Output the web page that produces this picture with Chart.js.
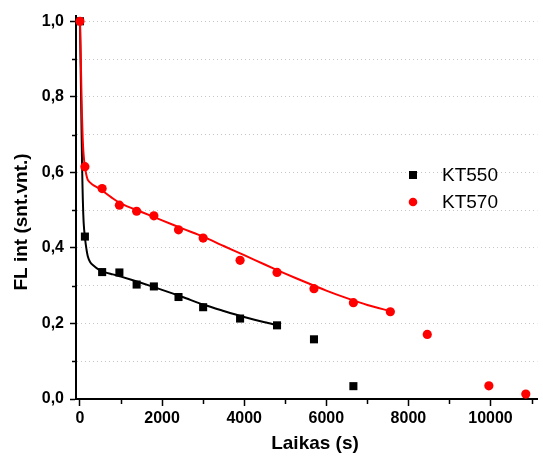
<!DOCTYPE html>
<html><head><meta charset="utf-8">
<script src="https://cdn.jsdelivr.net/npm/chart.js@4/dist/chart.umd.min.js"></script>
<style>html,body{margin:0;padding:0;background:#fff}#wrap{width:543px;height:456px}</style>
</head><body><div id="wrap"><canvas id="c" width="543" height="456"></canvas></div>
<script>
// Data
const timeKT550 = [0, 120, 540, 960, 1380, 1800, 2400, 3000, 3900, 4800, 5700, 6660];
const valKT550  = [1.0, 0.43, 0.336, 0.335, 0.303, 0.298, 0.27, 0.243, 0.213, 0.195, 0.158, 0.034];
const timeKT570 = [0, 120, 540, 960, 1380, 1800, 2400, 3000, 3900, 4800, 5700, 6660, 7560, 8460, 9960, 10860];
const valKT570  = [1.0, 0.615, 0.557, 0.513, 0.497, 0.485, 0.448, 0.426, 0.367, 0.335, 0.292, 0.255, 0.231, 0.171, 0.035, 0.013];
// fitted curves
const fitTime550 = [0, 20, 40, 60, 80, 100, 140, 190, 250, 320, 450, 600, 800, 1000, 1500, 2000, 2500, 3000, 3500, 4000, 4500, 4800];
const fitVal550  = [1.0, 0.85, 0.70, 0.57, 0.49, 0.45, 0.41, 0.378, 0.362, 0.354, 0.343, 0.336, 0.330, 0.324, 0.307, 0.289, 0.270, 0.250, 0.233, 0.217, 0.203, 0.196];
const fitTime570 = [0, 20, 40, 60, 80, 120, 190, 300, 500, 750, 1000, 1500, 2000, 2500, 3000, 3500, 4000, 4500, 5000, 5500, 6000, 6500, 7000, 7580];
const fitVal570  = [1.0, 0.90, 0.79, 0.71, 0.66, 0.615, 0.58, 0.568, 0.555, 0.535, 0.517, 0.495, 0.473, 0.451, 0.430, 0.405, 0.381, 0.356, 0.332, 0.309, 0.287, 0.267, 0.249, 0.232];
const xTicks = [0, 1000, 2000, 3000, 4000, 5000, 6000, 7000, 8000, 9000, 10000, 11000];
const yTicks = [0, 0.1, 0.2, 0.3, 0.4, 0.5, 0.6, 0.7, 0.8, 0.9, 1.0];
const seriesNames = ['KT550', 'KT570'];
const xTitle = 'Laikas (s)';
const yTitle = 'FL int (snt.vnt.)';

const pts = (xs, ys) => xs.map((x, i) => ({x, y: ys[i]}));
const FONT = '"Liberation Sans", Arial, sans-serif';
const isMajorX = v => Math.abs(v % 2000) < 1e-6;
const isMajorY = v => Math.abs(Math.round(v * 10) % 2) === 0;

const extras = {
  id: 'extras',
  afterDraw(chart) {
    const ctx = chart.ctx, xs = chart.scales.x, ys = chart.scales.y;
    ctx.save();
    // minor tick marks
    ctx.strokeStyle = '#000'; ctx.lineWidth = 1.5;
    xTicks.filter(v => !isMajorX(v)).forEach(v => {
      const px = Math.round(xs.getPixelForValue(v)) + 0.5;
      ctx.beginPath(); ctx.moveTo(px, ys.bottom); ctx.lineTo(px, ys.bottom + 5); ctx.stroke();
    });
    yTicks.filter(v => !isMajorY(v)).forEach(v => {
      const py = Math.round(ys.getPixelForValue(v)) + 0.5;
      ctx.beginPath(); ctx.moveTo(xs.left, py); ctx.lineTo(xs.left - 4, py); ctx.stroke();
    });
    // axis titles
    ctx.fillStyle = '#000';
    ctx.font = 'bold 19px ' + FONT;
    ctx.textAlign = 'center'; ctx.textBaseline = 'middle';
    ctx.fillText(xTitle, 315, 444);
    ctx.translate(22, 222); ctx.rotate(-Math.PI / 2);
    ctx.fillText(yTitle, 0, 0);
    ctx.restore();
    // legend
    ctx.save();
    const ds = chart.data.datasets;
    const rows = [{ds: ds[3], y: 175, shape: 'rect'}, {ds: ds[1], y: 202, shape: 'circle'}];
    ctx.font = '19px ' + FONT; ctx.textBaseline = 'middle'; ctx.textAlign = 'left';
    rows.forEach(r => {
      ctx.fillStyle = r.ds.backgroundColor;
      if (r.shape === 'rect') ctx.fillRect(409, r.y - 4, 8, 8);
      else { ctx.beginPath(); ctx.arc(413, r.y, 4.3, 0, Math.PI * 2); ctx.fill(); }
      ctx.fillStyle = '#000';
      ctx.fillText(r.ds.label, 442, r.y + 1);
    });
    ctx.restore();
  }
};

new Chart(document.getElementById('c'), {
  type: 'scatter',
  data: {
    datasets: [
      {label: seriesNames[1] + ' fit', type: 'line', data: pts(fitTime570, fitVal570), borderColor: '#ff0000', borderWidth: 2, pointRadius: 0, tension: 0.3, fill: false, order: 2},
      {label: seriesNames[1], data: pts(timeKT570, valKT570), backgroundColor: '#ff0000', borderColor: '#ff0000', pointStyle: 'circle', pointRadius: 4.6, borderWidth: 0, clip: false, order: 1},
      {label: seriesNames[0] + ' fit', type: 'line', data: pts(fitTime550, fitVal550), borderColor: '#000000', borderWidth: 2, pointRadius: 0, tension: 0.3, fill: false, order: 4},
      {label: seriesNames[0], data: pts(timeKT550, valKT550), backgroundColor: '#000000', borderColor: '#000000', pointStyle: 'rect', pointRadius: 5.7, borderWidth: 0, clip: false, order: 3}
    ]
  },
  options: {
    responsive: false, animation: false, events: [],
    layout: {padding: {top: 14, right: 3, left: 0, bottom: 0}},
    plugins: {legend: {display: false}, tooltip: {enabled: false}},
    scales: {
      x: {
        type: 'linear', min: -97, max: 11140,
        afterFit: s => { s.height = 57; },
        afterBuildTicks: s => { s.ticks = xTicks.map(v => ({value: v})); },
        border: {display: true, color: '#000', width: 2},
        grid: {drawOnChartArea: false, drawTicks: true, tickLength: 7, tickWidth: 1.5,
               tickColor: c => isMajorX(c.tick.value) ? '#000' : 'rgba(0,0,0,0)'},
        ticks: {color: '#000', font: {family: FONT, size: 16, weight: 'bold'}, padding: 3, maxRotation: 0, autoSkip: false,
                callback: v => isMajorX(v) ? String(v) : ''}
      },
      y: {
        type: 'linear', min: 0, max: 1.015,
        afterFit: s => { s.width = 76; },
        afterBuildTicks: s => { s.ticks = yTicks.map(v => ({value: v})); },
        border: {display: true, color: '#000', width: 2, dash: [1, 3]},
        grid: {display: true, drawOnChartArea: true, drawTicks: true, tickLength: 6, tickWidth: 1.5,
               color: c => (c.tick && c.tick.value === 0) ? 'rgba(0,0,0,0)' : '#c4c4c4', lineWidth: 1,
               tickBorderDash: [],
               tickColor: c => (c.tick && isMajorY(c.tick.value)) ? '#000' : 'rgba(0,0,0,0)'},
        ticks: {color: '#000', font: {family: FONT, size: 16, weight: 'bold'}, padding: 6, autoSkip: false,
                callback: v => isMajorY(v) ? v.toFixed(1).replace('.', ',') : ''}
      }
    }
  },
  plugins: [extras]
});
</script></body></html>
